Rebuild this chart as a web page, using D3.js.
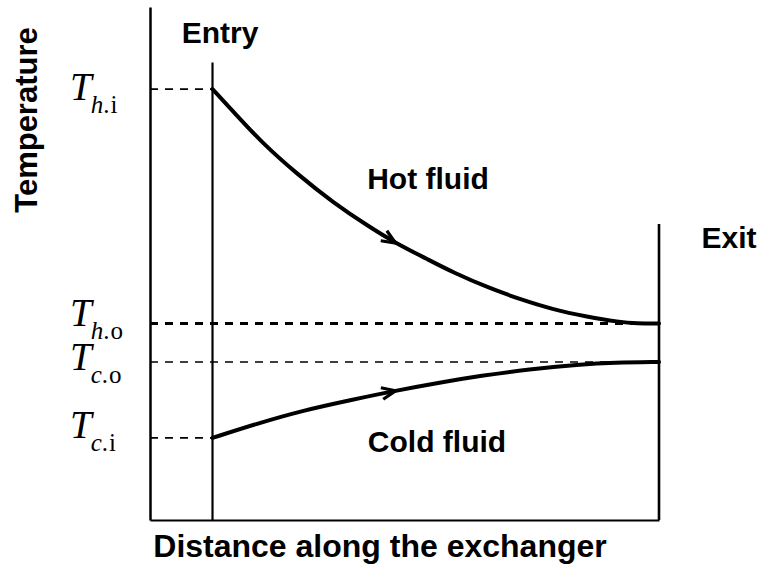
<!DOCTYPE html>
<html>
<head>
<meta charset="utf-8">
<script src="https://cdn.jsdelivr.net/npm/d3@7"></script>
<style>
  html, body { margin: 0; padding: 0; background: #fff; }
  svg { display: block; }
  .lbl { font-family: "Liberation Sans", Arial, sans-serif; font-weight: bold; fill: #000; }
  .tlab { font-family: "Liberation Serif", "Times New Roman", serif; fill: #000; }
</style>
</head>
<body>
<svg id="chart" width="767" height="587"></svg>
<script>
// ---- data ----
// distance along the exchanger: 0 = entry, 1 = exit
const hotDistance  = [0.00, 0.05, 0.11, 0.19, 0.27, 0.35, 0.41, 0.48, 0.54, 0.62, 0.69, 0.76, 0.84, 0.91, 0.95, 1.00];
const hotTemp      = [84.0, 79.3, 73.6, 67.4, 61.9, 57.2, 54.0, 50.9, 48.2, 45.2, 43.0, 41.1, 39.6, 38.6, 38.3, 38.3];
const coldDistance = [0.00, 0.10, 0.20, 0.31, 0.41, 0.51, 0.60, 0.71, 0.82, 0.90, 1.00];
const coldTemp     = [16.0, 18.8, 21.3, 23.4, 25.2, 26.8, 28.1, 29.4, 30.3, 30.7, 30.8];
// temperature levels marked on the axis
const levelFluid   = ["h", "h", "c", "c"];
const levelEnd     = ["i", "o", "o", "i"];
const levelTemp    = [84.0, 38.3, 30.8, 16.0];
const levelReach   = [0, 1, 1, 0];          // dashed guide reaches entry (0) or exit (1)
const arrowAt      = [0.41];                // arrow position along each curve
const entryTopTemp = 89.2;
const exitTopTemp  = 57.7;

// ---- layout ----
const svg = d3.select("#chart");
const plot = { left: 150, right: 659, top: 7, bottom: 520 };

const x = d3.scaleLinear().domain([-0.14, 1]).range([plot.left, plot.right]);
const y = d3.scaleLinear().domain([0, 100]).range([plot.bottom, plot.top]);

// axes (plain lines, no ticks)
const yAxis = d3.axisLeft(y).tickValues([]).tickSize(0);
svg.append("g").attr("transform", `translate(${plot.left},0)`).call(yAxis)
  .select(".domain").attr("stroke", "#000").attr("stroke-width", 2.5);
const xAxis = d3.axisBottom(x).tickValues([]).tickSize(0);
svg.append("g").attr("transform", `translate(0,${plot.bottom})`).call(xAxis)
  .select(".domain").attr("stroke", "#000").attr("stroke-width", 2);

// entry / exit lines
svg.append("line").attr("x1", x(0)).attr("x2", x(0)).attr("y1", y(entryTopTemp)).attr("y2", y(0))
  .attr("stroke", "#000").attr("stroke-width", 2.2);
svg.append("line").attr("x1", x(1)).attr("x2", x(1)).attr("y1", y(exitTopTemp)).attr("y2", y(0))
  .attr("stroke", "#000").attr("stroke-width", 2.6);

// dashed guides
levelTemp.forEach((t, i) => {
  svg.append("line")
    .attr("x1", x(-0.14)).attr("x2", x(levelReach[i]))
    .attr("y1", y(t)).attr("y2", y(t))
    .attr("stroke", "#000")
    .attr("stroke-width", i === 1 ? 2.8 : 1.6)
    .attr("stroke-dasharray", "8,7");
});

// curves
const line = d3.line().x(d => x(d[0])).y(d => y(d[1])).curve(d3.curveBasis);
const hot = hotDistance.map((d, i) => [d, hotTemp[i]]);
const cold = coldDistance.map((d, i) => [d, coldTemp[i]]);
[hot, cold].forEach(data => {
  svg.append("path").datum(data).attr("d", line)
    .attr("fill", "none").attr("stroke", "#000").attr("stroke-width", 4)
    .attr("stroke-linecap", "round");
});

// arrowheads along the curves
function arrow(data, at) {
  const xs = data.map(d => d[0]), ts = data.map(d => d[1]);
  const interp = v => {
    let k = d3.bisectRight(xs, v) - 1; k = Math.max(0, Math.min(k, xs.length - 2));
    const f = (v - xs[k]) / (xs[k+1] - xs[k]);
    return ts[k] + f * (ts[k+1] - ts[k]);
  };
  const px = x(at), py = y(interp(at));
  const qx = x(at - 0.03), qy = y(interp(at - 0.03));
  const ang = Math.atan2(py - qy, px - qx);
  const L = 15, spread = 0.4;
  const a1 = [px - L * Math.cos(ang - spread), py - L * Math.sin(ang - spread)];
  const a2 = [px - L * Math.cos(ang + spread), py - L * Math.sin(ang + spread)];
  svg.append("path")
    .attr("d", `M${a1[0]},${a1[1]} L${px},${py} L${a2[0]},${a2[1]}`)
    .attr("fill", "none").attr("stroke", "#000").attr("stroke-width", 3.2)
    .attr("stroke-linejoin", "miter");
}
arrow(hot, arrowAt[0]);
arrow(cold, arrowAt[0]);

// temperature level labels (T with subscript)
const labelDy = [11, 2, 8, 0];
levelTemp.forEach((t, i) => {
  const base = y(t) + labelDy[i];
  const tx = svg.append("text").attr("class", "tlab").attr("x", 70).attr("y", base);
  tx.append("tspan").attr("font-style", "italic").attr("font-size", 39).text("T");
  tx.append("tspan").attr("dx", -1).attr("dy", 13).attr("font-style", "italic").attr("font-size", 25).text(levelFluid[i]);
  tx.append("tspan").attr("font-size", 25).attr("letter-spacing", 1).text("." + levelEnd[i]);
});

// text labels
svg.append("text").attr("class", "lbl").attr("x", 220).attr("y", 43)
  .attr("text-anchor", "middle").attr("font-size", 30).text("Entry");
svg.append("text").attr("class", "lbl").attr("x", 729).attr("y", 248)
  .attr("text-anchor", "middle").attr("font-size", 30).text("Exit");
svg.append("text").attr("class", "lbl").attr("x", 428).attr("y", 189)
  .attr("text-anchor", "middle").attr("font-size", 30).text("Hot fluid");
svg.append("text").attr("class", "lbl").attr("x", 437).attr("y", 452)
  .attr("text-anchor", "middle").attr("font-size", 30).text("Cold fluid");
svg.append("text").attr("class", "lbl").attr("x", 380).attr("y", 557)
  .attr("text-anchor", "middle").attr("font-size", 32).text("Distance along the exchanger");
svg.append("text").attr("class", "lbl")
  .attr("transform", "translate(37,120) rotate(-90)")
  .attr("text-anchor", "middle").attr("font-size", 31).text("Temperature");
</script>
</body>
</html>
